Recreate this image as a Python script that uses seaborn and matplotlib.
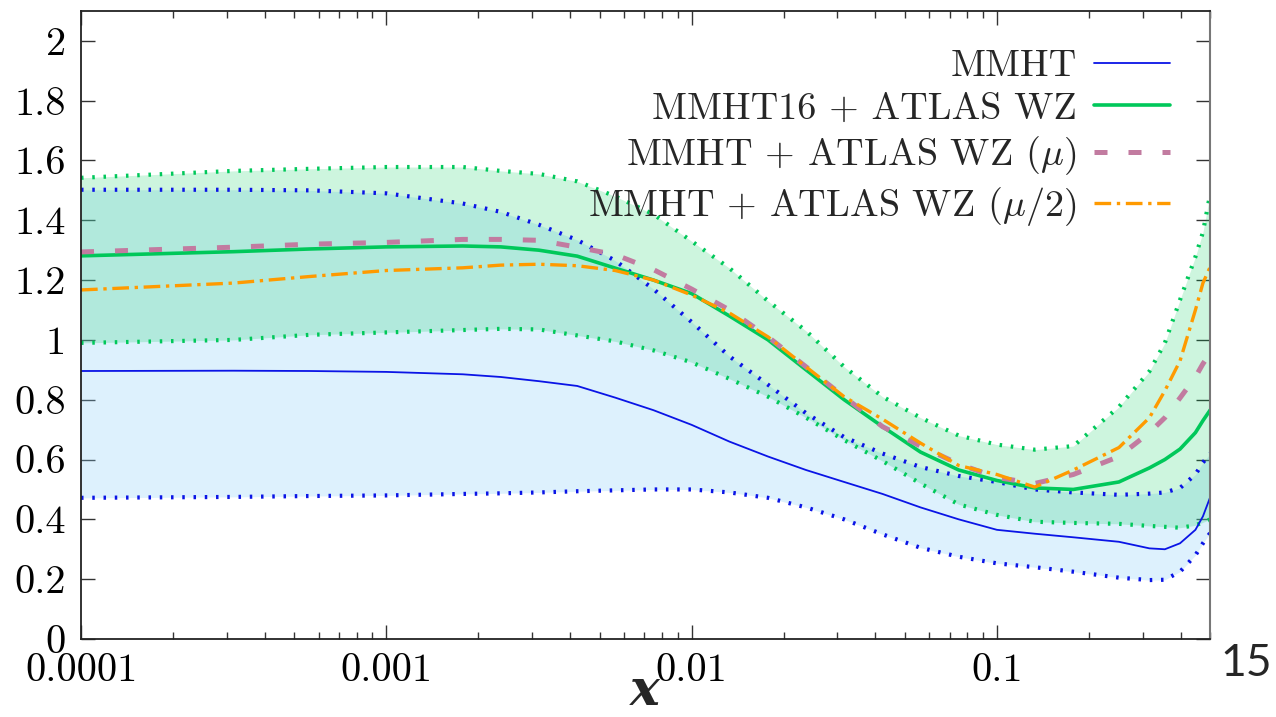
import matplotlib
matplotlib.use("Agg")
import matplotlib.pyplot as plt
import seaborn as sns
from matplotlib.lines import Line2D

# x grid
x = [1e-4, 3.16e-4, 5.62e-4, 1e-3, 1.78e-3, 2.37e-3, 3.16e-3, 4.22e-3, 5.62e-3,
     7.5e-3, 0.01, 0.0133, 0.0178, 0.0237, 0.0316, 0.0422, 0.0562, 0.075, 0.1,
     0.133, 0.178, 0.251, 0.316, 0.355, 0.398, 0.447, 0.473, 0.5]

mmht = [0.896, 0.897, 0.896, 0.893, 0.885, 0.876, 0.862, 0.846, 0.807,
        0.765, 0.716, 0.66, 0.61, 0.565, 0.525, 0.485, 0.44, 0.40, 0.365,
        0.352, 0.34, 0.325, 0.303, 0.30, 0.32, 0.365, 0.41, 0.475]
mmht_hi = [1.502, 1.502, 1.50, 1.49, 1.456, 1.428, 1.385, 1.334, 1.265,
           1.17, 1.06, 0.945, 0.85, 0.755, 0.675, 0.62, 0.575, 0.545, 0.525,
           0.50, 0.49, 0.482, 0.486, 0.49, 0.505, 0.55, 0.59, 0.62]
mmht_lo = [0.472, 0.475, 0.478, 0.48, 0.485, 0.487, 0.49, 0.494, 0.497,
           0.50, 0.50, 0.49, 0.472, 0.44, 0.40, 0.35, 0.305, 0.275, 0.253,
           0.24, 0.225, 0.205, 0.197, 0.198, 0.225, 0.28, 0.32, 0.355]

wz = [1.281, 1.295, 1.304, 1.311, 1.314, 1.311, 1.30, 1.28, 1.24,
      1.20, 1.155, 1.08, 1.0, 0.90, 0.80, 0.71, 0.625, 0.565, 0.53,
      0.505, 0.50, 0.525, 0.572, 0.60, 0.635, 0.69, 0.73, 0.766]
wz_hi = [1.542, 1.565, 1.572, 1.578, 1.578, 1.565, 1.555, 1.53, 1.48,
         1.42, 1.33, 1.24, 1.13, 1.03, 0.91, 0.81, 0.74, 0.68, 0.65,
         0.633, 0.645, 0.776, 0.895, 0.99, 1.134, 1.278, 1.36, 1.49]
wz_lo = [0.99, 1.0, 1.017, 1.025, 1.033, 1.037, 1.035, 1.015, 0.995,
         0.965, 0.925, 0.87, 0.81, 0.74, 0.665, 0.595, 0.52, 0.45, 0.415,
         0.392, 0.388, 0.385, 0.378, 0.375, 0.372, 0.38, 0.39, 0.40]

wz_mu = [1.294, 1.31, 1.32, 1.326, 1.336, 1.336, 1.333, 1.31, 1.285,
         1.235, 1.17, 1.10, 1.01, 0.91, 0.81, 0.71, 0.645, 0.585, 0.54,
         0.52, 0.55, 0.61, 0.69, 0.74, 0.806, 0.876, 0.92, 0.956]
wz_mu2 = [1.167, 1.19, 1.212, 1.232, 1.241, 1.25, 1.253, 1.248, 1.232,
          1.20, 1.15, 1.09, 1.01, 0.91, 0.81, 0.735, 0.655, 0.58, 0.55,
          0.508, 0.565, 0.64, 0.74, 0.83, 0.93, 1.10, 1.19, 1.245]

labels = ["MMHT", "MMHT16 + ATLAS WZ", r"MMHT + ATLAS WZ $(\mu)$",
          r"MMHT + ATLAS WZ $(\mu/2)$"]
yticks = [0, 0.2, 0.4, 0.6, 0.8, 1, 1.2, 1.4, 1.6, 1.8, 2]
xticks = [1e-4, 1e-3, 1e-2, 1e-1]
xticklabels = ["0.0001", "0.001", "0.01", "0.1"]

sns.set_theme(style="ticks")
plt.rcParams["font.family"] = "serif"
plt.rcParams["font.serif"] = ["cmr10", "DejaVu Serif"]
plt.rcParams["mathtext.fontset"] = "cm"
plt.rcParams["axes.unicode_minus"] = False

BLUE = "#0a14e6"
GREEN = "#00c85a"
PINK = "#c27ba0"
ORANGE = "#ff9a00"
DOT = (0, (0.6, 2.1))
DASH = (0, (2.6, 4.2))
DASHDOT = (0, (5, 1.7, 1, 1.7))

fig = plt.figure(figsize=(12.76, 7.17), dpi=100)
ax = fig.add_axes([0.0635, 0.1088, 0.885, 0.876])

ax.fill_between(x, mmht_lo, mmht_hi, color="#87cefa", alpha=0.28, lw=0)
ax.fill_between(x, wz_lo, wz_hi, color="#05cd5a", alpha=0.2, lw=0)

for lo, hi, c in [(mmht_lo, mmht_hi, BLUE), (wz_lo, wz_hi, GREEN)]:
    sns.lineplot(x=x, y=lo, color=c, lw=3, linestyle=DOT, ax=ax, legend=False)
    sns.lineplot(x=x, y=hi, color=c, lw=3, linestyle=DOT, ax=ax, legend=False)

sns.lineplot(x=x, y=mmht, color=BLUE, lw=1.3, ax=ax, legend=False)
sns.lineplot(x=x, y=wz, color=GREEN, lw=2.6, ax=ax, legend=False)
sns.lineplot(x=x, y=wz_mu, color=PINK, lw=3.6, linestyle=DASH, ax=ax, legend=False)
sns.lineplot(x=x, y=wz_mu2, color=ORANGE, lw=2.4, linestyle=DASHDOT, ax=ax, legend=False)

ax.set_xscale("log")
ax.set_xlim(1e-4, 0.5)
ax.set_ylim(0, 2.1)
ax.set_yticks(yticks)
ax.set_yticklabels(["%g" % v for v in yticks])
ax.set_xticks(xticks)
ax.set_xticklabels(xticklabels)
ax.tick_params(axis="both", which="major", direction="in", length=10, width=1,
               labelsize=29, top=True, right=True, colors="#333333",
               labelcolor="black")
ax.tick_params(axis="y", pad=11)
ax.tick_params(axis="x", pad=10)
ax.tick_params(axis="x", which="minor", direction="in", length=5, width=1,
               top=True, colors="#333333")
ax.set_xlabel("")
for s in ["left", "bottom", "top"]:
    ax.spines[s].set_color("#222222")
    ax.spines[s].set_linewidth(1.3)
ax.spines["right"].set_color("#777777")
ax.spines["right"].set_linewidth(1.5)

fig.text(0.5055, 0.002, "x", fontsize=36, family="DejaVu Serif",
         fontweight="bold", fontstyle="italic", ha="center", va="bottom")

handles = [
    Line2D([], [], color=BLUE, lw=1.3),
    Line2D([], [], color=GREEN, lw=2.6),
    Line2D([], [], color=PINK, lw=3.6, linestyle=DASH),
    Line2D([], [], color=ORANGE, lw=2.4, linestyle=DASHDOT),
]
ax.legend(handles, labels, loc="upper right", bbox_to_anchor=(0.995, 0.993),
          frameon=False, markerfirst=False, fontsize=27.5, handlelength=2.0,
          labelspacing=0.22, handletextpad=0.45)

fig.text(0.997, 0.074, "15", fontsize=32, family="Lato", ha="right", va="center")

fig.savefig("out.png", dpi=100)
